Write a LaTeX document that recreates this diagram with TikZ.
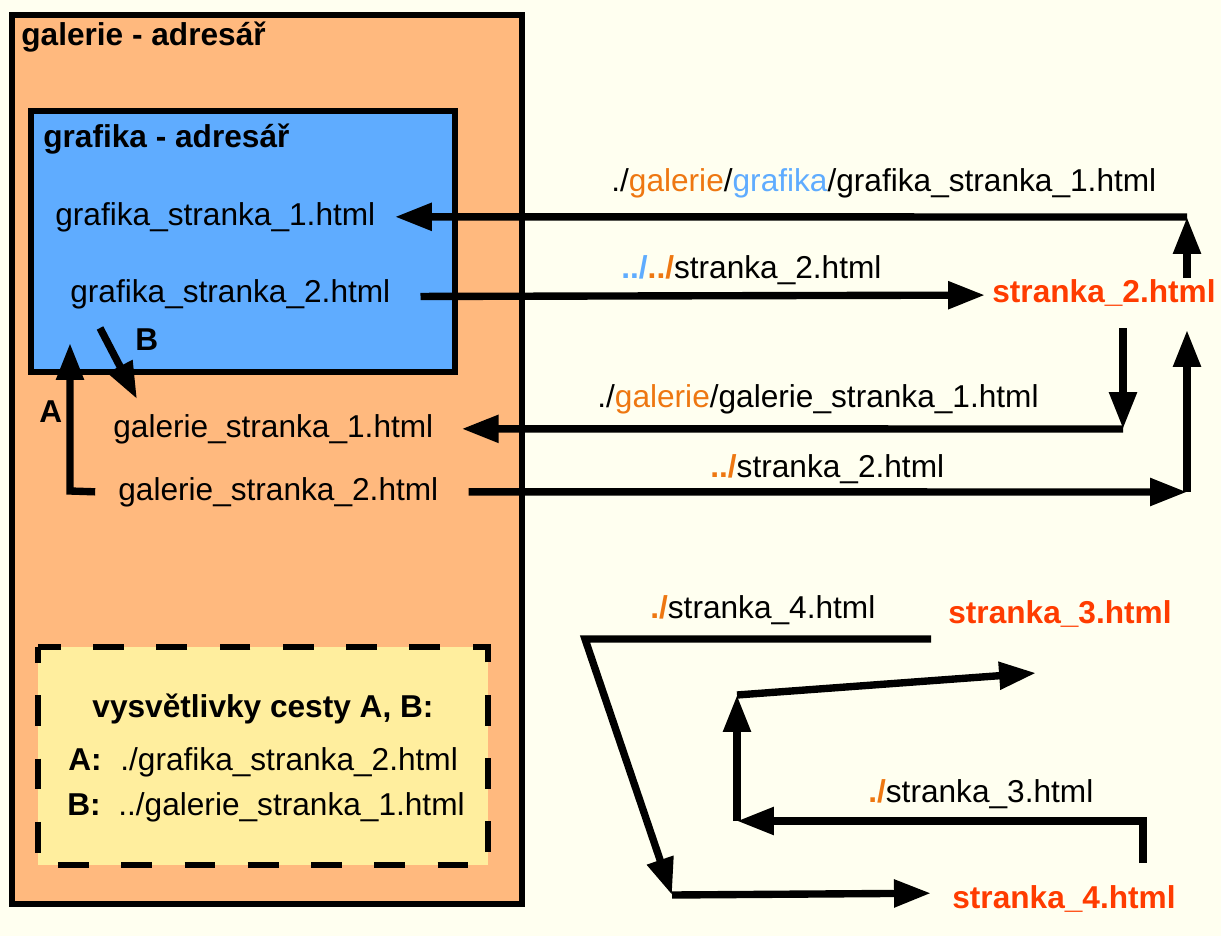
\documentclass[tikz,border=0pt]{standalone}
\usepackage{fontspec}
\setmainfont[Scale=1.8]{Liberation Sans}
\usetikzlibrary{arrows.meta,positioning}

\definecolor{paper}{HTML}{FFFFF0}
\definecolor{peach}{HTML}{FFB97E}
\definecolor{dirblue}{HTML}{5FACFF}
\definecolor{notes}{HTML}{FFEE9E}
\definecolor{pagered}{HTML}{FF3C00}
\definecolor{dirorange}{HTML}{EE7711}

\newcommand{\ora}[1]{\textcolor{dirorange}{#1}}
\newcommand{\blu}[1]{\textcolor{dirblue}{#1}}

\begin{document}
\begin{tikzpicture}[x=0.02cm, y=-0.02cm,
    file/.style = {anchor=base west, inner sep=0pt},
    target/.style = {file, font=\bfseries, text=pagered},
    link/.style = {-{Triangle[length=21pt, width=15pt]}, line width=4.2pt},
    folder/.style = {draw, line width=2.9pt}]
    \fill[paper] (0,0) rectangle (1221,936);
    \useasboundingbox (0,0) rectangle (1221,936);

    % adresare
    \draw[folder, fill=peach] (12,15) rectangle (522,904);
    \node[file, font=\bfseries] (gal) at (21,46) {galerie - adresář};
    \draw[folder, fill=dirblue] (31,111) rectangle (455,372);
    \node[file, font=\bfseries] (gra) at (43,148) {grafika - adresář};

    % soubory
    \node[file] (g1) at (55,225) {grafika\_stranka\_1.html};
    \node[file] (g2) at (70,302) {grafika\_stranka\_2.html};
    \node[file] (g3) at (113,437) {galerie\_stranka\_1.html};
    \node[file] (g4) at (118,500) {galerie\_stranka\_2.html};

    \node[target] (s2) at (992,302) {stranka\_2.html};
    \node[target] (s3) at (948,623) {stranka\_3.html};
    \node[target] (s4) at (952,908) {stranka\_4.html};

    % cesty A, B
    \coordinate (bfrom) at (100,328);
    \coordinate (bto) at (137,399);
    \draw[link] (bfrom) -- (bto);
    \node[file, font=\bfseries] (lb) at (135,350) {B};

    \coordinate (abend) at (70,491);
    \coordinate (ato) at (70,343);
    \draw[link] ([xshift=-13pt]g4.west) -- (abend) -- (ato);
    \node[file, font=\bfseries] (la) at (39,422) {A};

    % odkazy ze stranka_2
    \coordinate (tr) at (1187,217);
    \coordinate (s2up) at (1187,278);
    \draw[link] (s2up) -- (tr);
    \draw[link] (tr) -- ([xshift=11pt]g1.east);
    \node[file] (p1) at (611,192) {./\ora{galerie}/\blu{grafika}/grafika\_stranka\_1.html};

    \draw[link] ([xshift=17pt,yshift=-1.5pt]g2.east) -- ([xshift=-4pt,yshift=-1.5pt]s2.west);
    \node[file] (p2) at (621,278) {\textbf{\blu{../}\ora{../}}stranka\_2.html};

    \coordinate (s2down) at (1123,328);
    \coordinate (c3) at (1123,429);
    \draw[link] (s2down) -- (c3);
    \draw[link] (c3) -- ([xshift=16pt]g3.east);
    \node[file] (p3) at (597,407) {./\ora{galerie}/galerie\_stranka\_1.html};

    \coordinate (c4) at (1187,492);
    \coordinate (s2low) at (1187,330);
    \draw[link] ([xshift=17pt]g4.east) -- (c4);
    \draw[link] (c4) -- (s2low);
    \node[file] (p4) at (710,477) {\textbf{\ora{../}}stranka\_2.html};

    % stranka_3 a stranka_4
    \coordinate (s3from) at (931,639);
    \coordinate (d2) at (585,639);
    \coordinate (d3) at (672,895);
    \draw[link] (s3from) -- (d2) -- (d3);
    \draw[link] (d3) -- ([xshift=-12pt,yshift=3pt]s4.west);
    \node[file] (p5) at (650,618) {\textbf{\ora{./}}stranka\_4.html};

    \coordinate (s4from) at (1143,863);
    \coordinate (e2) at (1143,821);
    \coordinate (e3) at (737,821);
    \coordinate (e4) at (737,695);
    \coordinate (s3to) at (1036,673);
    \draw[link] (s4from) -- (e2) -- (e3);
    \draw[link] (e3) -- (e4);
    \draw[link] (e4) -- (s3to);
    \node[file] (p6) at (868,802) {\textbf{\ora{./}}stranka\_3.html};

    % vysvetlivky
    \draw[line width=3pt, dash pattern=on 17.5pt off 18.5pt, dash phase=8.5pt, fill=notes]
        (38,647) rectangle (488,865);
    \node[anchor=base, inner sep=0pt, font=\bfseries] (key) at (263,717) {vysvětlivky cesty A, B:};
    \node[file, font=\bfseries] (keya) at (68,770) {A:};
    \node[file] (patha) at (120,770) {./grafika\_stranka\_2.html};
    \node[file, font=\bfseries] (keyb) at (67,815) {B:};
    \node[file] (pathb) at (118,815) {../galerie\_stranka\_1.html};
\end{tikzpicture}
\end{document}
